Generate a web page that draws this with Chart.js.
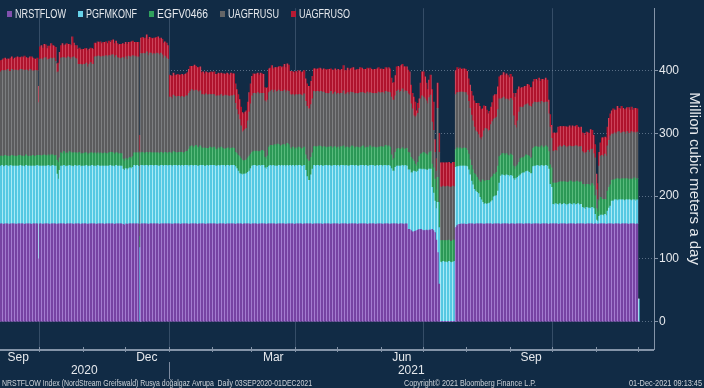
<!DOCTYPE html>
<html>
<head>
<meta charset="utf-8">
<script src="https://cdn.jsdelivr.net/npm/chart.js@4.4.0/dist/chart.umd.min.js"></script>
<style>
  html, body { margin: 0; padding: 0; background: #112b45; }
  #wrap { width: 704px; height: 388px; position: relative; }
</style>
</head>
<body>
<div id="wrap"><canvas id="flow-chart" width="704" height="388"></canvas></div>
<script>
// Daily series, 03 Sep 2020 .. 01 Dec 2021 (one line per month)
const seriesNames = ['NRSTFLOW', 'PGFMKONF', 'EGFV0466', 'UAGFRUSU', 'UAGFRUSO'];
const seriesColors = ['#8150ad', '#66d2ea', '#30a15d', '#646567', '#b61a33'];
// bar fill: base + light stripe (the striped look of the daily bars)
const stripeColors = [
    ['#7743a3', '#a47cd0'],
    ['#55c9e3', '#a8ebf7'],
    ['#2b9956', '#58bb7c'],
    ['#5b5b5d', '#7e7f81'],
    ['#b0132d', '#cd445b']
];

const nrstflow = [
  156,156,155,156,156,156,155,156,156,156,156,155,156,156,156,156,156,155,156,156,156,156,155,156,156,156,156,100,
  156,156,155,156,156,156,156,155,156,156,156,156,155,156,156,156,156,156,155,156,156,156,156,156,155,156,156,156,156,155,156,
  156,156,156,155,156,156,156,156,156,155,156,156,156,156,156,155,156,156,156,156,156,156,155,156,156,156,156,156,155,154,
  156,155,156,156,156,156,156,156,156,156,0,156,156,156,156,156,155,156,156,156,156,156,156,156,155,156,156,156,156,156,156,
  156,156,155,156,156,156,156,156,155,156,156,156,156,156,155,156,156,156,156,156,155,156,156,156,156,156,155,156,156,156,156,
  156,156,156,155,156,156,156,156,156,155,156,156,156,156,156,156,155,156,156,156,156,155,156,156,156,156,156,155,
  156,156,156,156,155,156,156,156,156,156,155,156,156,156,156,156,156,155,156,156,156,156,156,156,155,156,156,156,156,156,155,
  156,156,156,156,156,155,156,156,156,156,156,156,155,156,156,156,156,156,156,155,156,156,156,156,156,155,156,156,156,156,
  156,155,156,156,156,156,156,155,156,156,156,156,156,156,155,156,156,156,156,156,156,155,156,156,156,156,156,155,156,156,156,
  156,155,156,156,156,156,155,156,156,156,156,156,155,156,156,156,155,156,156,147,147,145,143,143,144,145,146,147,147,146,
  145,145,146,145,146,146,147,145,142,130,110,60,0,0,0,0,0,0,0,0,0,0,0,150,153,155,155,156,155,156,155,
  155,156,156,156,156,155,156,156,156,156,156,156,155,156,156,156,156,156,155,156,156,156,156,156,155,156,156,156,156,156,155,
  156,156,156,155,156,156,156,156,156,155,156,156,156,156,156,155,156,156,156,156,156,155,156,156,156,156,156,155,156,156,
  156,156,156,156,155,156,156,156,156,156,155,156,156,156,156,156,155,156,156,156,156,156,156,155,156,156,156,156,156,155,156,
  156,155,156,156,156,156,156,155,156,156,156,156,155,156,156,156,156,155,156,156,156,156,156,155,156,156,156,156,155,156,
  0
];
const pgfmkonf = [
  92,93,92,92,93,92,92,93,92,92,92,93,92,92,93,92,92,92,93,92,92,92,93,92,92,92,93,148,
  92,92,93,92,92,92,93,92,92,93,92,92,80,71,85,92,92,93,92,92,92,93,92,92,92,93,92,92,93,92,92,
  92,92,93,92,92,92,93,92,92,92,93,92,92,92,92,93,92,92,92,93,92,92,92,93,92,92,92,92,88,87,
  88,87,88,89,88,90,93,92,93,92,118,93,93,92,93,93,92,93,93,93,92,93,93,92,93,93,93,92,93,93,92,
  93,93,92,93,93,93,92,93,93,93,92,93,93,93,92,93,93,92,93,93,93,92,93,93,93,92,93,93,92,93,93,
  93,93,92,93,93,92,93,93,93,92,93,93,92,93,93,93,92,88,84,80,79,79,79,79,80,82,84,89,
  92,93,93,92,93,93,92,93,93,89,88,90,92,93,92,93,92,93,92,93,92,93,92,93,92,93,92,93,92,93,92,
  93,92,93,93,92,93,93,85,75,69,69,78,88,93,92,93,93,92,93,93,92,93,93,92,93,93,92,93,93,92,
  93,92,93,93,93,92,93,93,92,93,93,93,92,93,93,92,93,93,93,92,93,93,92,93,93,93,92,93,93,92,93,
  93,92,93,93,92,93,93,88,84,84,90,92,93,92,92,93,92,93,92,95,95,92,94,97,95,93,94,96,96,96,
  98,97,96,96,97,97,67,60,50,50,80,90,95,94,96,95,95,94,96,95,94,95,96,96,94,92,93,92,93,92,93,
  92,86,78,68,62,56,52,50,48,42,38,34,32,32,31,32,33,35,38,43,44,45,52,65,77,78,77,76,78,77,76,
  77,76,72,70,72,74,76,78,80,82,81,83,84,82,80,81,91,92,92,93,92,92,93,92,92,93,92,88,63,58,
  31,30,32,31,31,32,30,31,32,31,30,31,32,31,30,32,31,31,32,30,31,26,25,24,26,25,25,24,26,25,15,
  6,5,12,14,14,13,15,14,20,25,28,36,37,38,38,37,38,39,38,38,37,38,38,39,38,37,38,38,37,38,
  36
];
const egfv0466 = [
  16,15,16,17,15,16,16,15,17,16,16,15,16,17,16,15,16,16,17,16,15,16,16,17,15,16,16,17,
  17,16,17,18,17,16,17,17,18,17,16,17,22,27,20,21,20,22,21,21,20,22,21,21,22,20,21,20,21,20,20,
  20,21,20,19,20,21,20,20,21,20,20,19,21,20,20,21,20,20,21,21,22,21,20,20,21,19,20,20,16,15,
  16,15,16,17,16,17,20,21,20,21,18,20,21,20,20,21,20,21,20,20,21,20,20,21,20,21,20,20,21,20,20,
  21,20,21,22,21,20,21,21,22,21,20,21,22,23,28,30,31,29,30,32,30,29,31,28,27,29,28,27,28,29,28,
  28,29,27,26,28,27,29,27,26,28,27,28,26,27,28,27,23,24,25,27,25,23,21,22,22,23,24,23,
  22,23,22,24,23,22,23,24,23,17,16,18,30,32,33,31,34,32,35,33,31,32,34,33,32,35,34,28,27,29,28,
  28,27,29,28,27,28,29,25,28,31,31,28,26,30,31,29,30,32,30,29,31,29,28,30,29,31,28,29,30,28,
  29,28,30,29,31,28,29,30,28,29,31,30,28,29,30,29,28,30,31,29,28,30,29,31,28,29,30,29,28,30,29,
  30,31,29,32,30,31,30,22,17,20,24,27,28,26,27,28,27,26,28,28,27,25,22,16,12,10,14,20,24,26,
  27,26,25,24,26,28,37,40,35,30,40,40,34,35,33,34,34,35,34,33,34,35,34,28,30,28,29,27,28,29,28,
  26,25,24,25,24,25,26,24,22,25,28,36,37,36,38,37,36,38,38,36,35,37,40,42,33,34,35,33,34,32,33,
  34,33,20,18,19,20,22,26,25,24,26,27,25,26,24,25,29,30,31,29,30,30,31,29,30,31,30,28,31,31,
  34,35,33,34,36,35,37,36,35,36,37,35,36,37,36,35,36,37,35,36,36,37,38,36,37,38,37,36,38,37,30,
  18,15,25,28,25,26,24,25,32,33,34,33,34,32,33,35,33,32,34,33,35,33,34,32,33,34,33,35,33,34,
  0
];
const uagfrusu = [
  134,136,137,135,136,138,136,135,137,136,137,138,136,135,137,139,136,138,135,137,136,138,136,134,137,136,135,84,
  153,155,152,154,156,153,152,155,154,153,156,150,140,144,150,151,153,150,152,151,154,150,149,152,153,151,150,142,140,143,141,
  142,141,143,140,142,144,141,142,153,155,154,156,153,154,155,153,156,154,155,153,155,156,154,155,152,153,151,152,162,163,
  162,161,163,160,162,161,153,154,152,153,135,158,157,159,158,160,157,158,159,156,158,157,159,158,157,158,156,152,153,151,150,
  88,89,87,90,89,88,90,89,87,89,90,88,89,88,89,88,90,91,89,88,90,89,88,85,86,84,87,85,86,84,85,
  85,84,84,86,83,85,84,83,85,86,84,83,85,84,83,85,78,70,65,59,52,45,48,49,50,59,70,80,
  90,92,93,91,94,92,93,91,92,90,91,89,87,86,88,85,87,86,84,87,88,86,85,87,86,84,85,85,86,84,85,
  85,86,84,85,86,84,85,85,84,83,83,84,86,88,87,89,88,86,88,89,87,86,87,85,86,88,86,85,87,86,
  86,87,85,86,88,86,85,87,86,88,85,86,87,86,85,87,88,86,85,87,86,88,86,85,87,86,85,87,86,88,86,
  86,87,85,86,88,86,87,92,96,93,90,92,93,91,92,94,92,93,91,93,92,85,80,72,74,80,78,77,88,92,
  88,87,85,82,88,90,67,60,43,30,110,80,86,85,87,86,86,87,85,86,87,86,85,88,88,90,89,91,90,88,89,
  88,84,82,80,78,74,70,72,72,70,68,68,80,84,82,78,80,85,88,88,89,88,90,92,89,88,90,89,87,89,88,
  89,88,80,70,62,70,80,82,80,81,82,80,82,80,83,81,71,72,70,71,72,70,71,72,71,70,72,60,60,47,
  51,50,52,51,56,57,55,56,58,56,55,57,56,55,57,56,58,56,55,57,56,52,50,53,51,54,52,58,55,51,60,
  30,20,55,66,70,68,72,70,72,75,78,74,73,75,72,74,76,74,73,75,74,72,75,74,73,76,74,73,75,74,
  0
];
const uagfruso = [
  18,17,19,20,18,17,19,21,20,18,19,20,22,21,19,20,21,22,20,19,21,20,22,21,19,18,20,26,
  20,21,19,22,20,18,21,20,23,21,19,22,14,14,18,20,22,19,21,23,20,21,22,33,22,20,21,24,26,23,25,
  24,25,23,26,24,23,25,24,22,21,23,22,24,21,22,23,22,21,23,22,23,24,22,23,22,21,23,22,22,23,
  23,24,22,23,24,23,23,22,24,23,26,25,26,24,25,27,26,25,24,26,25,26,25,27,26,24,25,24,23,24,22,
  35,34,36,35,33,36,35,34,36,35,34,36,35,37,38,40,37,39,41,38,37,39,38,35,36,34,35,36,34,35,36,
  35,36,35,34,36,35,34,36,35,33,36,35,34,36,35,34,31,32,32,32,30,31,27,28,28,30,31,32,
  31,31,30,32,31,30,32,31,30,21,22,20,38,37,39,38,36,39,38,37,40,38,39,41,40,43,42,37,38,36,37,
  37,36,38,37,36,38,37,36,36,36,36,37,36,36,37,35,36,38,36,35,37,38,37,39,38,36,39,38,37,38,
  38,39,37,38,40,38,37,39,38,37,39,40,38,37,39,38,40,39,37,38,39,38,40,39,38,37,39,38,40,39,38,
  38,37,39,38,37,39,38,30,27,28,32,39,38,40,41,39,40,38,39,38,37,30,25,30,25,8,16,15,25,38,
  40,35,28,23,28,32,52,45,20,20,40,30,38,39,37,38,38,37,39,38,37,38,39,38,40,37,38,36,37,38,37,
  38,36,37,38,40,42,44,46,50,50,48,45,40,35,30,28,30,28,30,37,38,36,36,35,38,37,39,38,40,38,37,
  38,37,36,45,55,50,40,30,32,31,30,29,31,33,30,31,35,36,37,35,38,36,35,37,36,38,35,22,20,21,
  28,30,27,29,32,31,33,32,30,32,33,31,32,30,33,32,31,33,32,30,31,30,31,29,32,28,30,32,30,29,21,
  25,25,22,21,28,30,27,29,30,35,35,37,40,36,38,41,37,39,42,38,36,40,38,41,37,39,36,38,40,37,
  0
];

// Axis text
const yTickValues = [0, 100, 200, 300, 400];
const yTitle = 'Million cubic meters a day';
const monthLabels = ['Sep', 'Dec', 'Mar', 'Jun', 'Sep'];
const monthLabelMonths = ['2020-09', '2020-12', '2021-03', '2021-06', '2021-09'];
const yearLabels = ['2020', '2021'];
const footerLeft = 'NRSTFLOW Index (NordStream Greifswald) Rusya doğalgaz Avrupa  Daily 03SEP2020-01DEC2021';
const footerMid = 'Copyright\u00A9 2021 Bloomberg Finance L.P.';
const footerRight = '01-Dec-2021 09:13:45';

const BG = '#112b45';
const TEXT = '#e6e9ed';
const AXIS = '#8494a8';
const FONT = '"Liberation Sans", Arial, sans-serif';

const allSeries = [nrstflow, pgfmkonf, egfv0466, uagfrusu, uagfruso];
if (allSeries.some(s => s.length !== 455)) {
    document.getElementById('wrap').insertAdjacentHTML('beforeend',
        '<div style="position:absolute;left:60px;top:60px;color:red;font:20px sans-serif">' +
        allSeries.map(s => s.length).join(', ') + '</div>');
}

// calendar helpers (day 0 = 03 Sep 2020)
const dayMs = 86400000;
const startUTC = Date.UTC(2020, 8, 3);
const dayIndex = (y, m, d) => Math.round((Date.UTC(y, m, d) - startUTC) / dayMs);
const days = nrstflow.map((_, i) => i);

const monthStarts = [];
for (let y = 2020, m = 9; ; m++) {
    if (m > 11) { m = 0; y++; }
    const idx = dayIndex(y, m, 1);
    if (idx > days.length - 1) break;
    monthStarts.push({ index: idx, month: m, year: y });
}

// 3px striped fill, anchored on the canvas
function stripePattern(base, light) {
    const c = document.createElement('canvas');
    c.width = 3; c.height = 1;
    const g = c.getContext('2d');
    g.fillStyle = base; g.fillRect(0, 0, 2, 1);
    g.fillStyle = light; g.fillRect(2, 0, 1, 1);
    return g.createPattern(c, 'repeat');
}

const axisPlugin = {
    id: 'bloombergAxis',
    beforeDraw(chart) {
        const { ctx, width, height } = chart;
        ctx.save();
        ctx.fillStyle = BG;
        ctx.fillRect(0, 0, width, height);
        ctx.restore();
    },
    beforeDatasetsDraw(chart) {
        // quarter grid lines
        const { ctx, chartArea } = chart;
        const xs = chart.scales.x;
        ctx.save();
        ctx.strokeStyle = 'rgba(120,140,165,0.35)';
        ctx.lineWidth = 1;
        monthStarts.filter(m => m.month % 3 === 0).forEach(m => {
            const px = Math.round(xs.getPixelForValue(m.index - 0.5)) + 0.5;
            ctx.beginPath();
            ctx.moveTo(px, chartArea.top);
            ctx.lineTo(px, chartArea.bottom);
            ctx.stroke();
        });
        ctx.restore();
    },
    afterDraw(chart) {
        const { ctx, chartArea } = chart;
        const xs = chart.scales.x;
        const axisY = chartArea.bottom;
        ctx.save();

        // x axis line + month ticks
        ctx.strokeStyle = AXIS;
        ctx.lineWidth = 2;
        ctx.beginPath();
        ctx.moveTo(chartArea.left, axisY + 1);
        ctx.lineTo(chartArea.right, axisY + 1);
        ctx.stroke();
        ctx.lineWidth = 1;
        monthStarts.forEach(m => {
            const px = Math.round(xs.getPixelForValue(m.index - 0.5)) + 0.5;
            ctx.beginPath();
            ctx.moveTo(px, axisY - 2);
            ctx.lineTo(px, axisY + 3);
            ctx.stroke();
        });

        // month labels, centred in their month
        ctx.fillStyle = TEXT;
        ctx.font = '12px ' + FONT;
        ctx.textAlign = 'center';
        ctx.textBaseline = 'middle';
        monthLabels.forEach((lab, k) => {
            const [y, m] = monthLabelMonths[k].split('-').map(Number);
            const a = xs.getPixelForValue(dayIndex(y, m - 1, 1) - 0.5);
            const b = xs.getPixelForValue(dayIndex(y, m, 1) - 0.5);
            ctx.fillText(lab, (a + b) / 2, 358);
        });

        // years
        const yearSplit = xs.getPixelForValue(dayIndex(2021, 0, 1) - 0.5);
        ctx.fillText(yearLabels[0], (chartArea.left + yearSplit) / 2, 371);
        ctx.fillText(yearLabels[1], (yearSplit + chartArea.right) / 2, 371);
        ctx.strokeStyle = '#7d8ba0';
        ctx.beginPath();
        ctx.moveTo(Math.round(yearSplit) + 0.5, 362);
        ctx.lineTo(Math.round(yearSplit) + 0.5, 379);
        ctx.stroke();

        // legend (overlaid on the plot, text squeezed to the narrow Bloomberg face)
        ctx.font = '12px ' + FONT;
        ctx.textAlign = 'left';
        let lx = 7;
        seriesNames.forEach((name, k) => {
            const w = Math.min(ctx.measureText(name).width, 51);
            ctx.fillStyle = seriesColors[k];
            ctx.fillRect(lx, 11, 5, 6);
            ctx.fillStyle = TEXT;
            ctx.fillText(name, lx + 8, 14.5, w);
            lx += 8 + w + 12;
        });

        // footer
        ctx.fillStyle = '#cdd2d8';
        ctx.font = '9.5px ' + FONT;
        ctx.textAlign = 'left';
        ctx.fillText(footerLeft, 2, 383, 310);
        ctx.textAlign = 'center';
        ctx.fillText(footerMid, 470, 383, 132);
        ctx.textAlign = 'right';
        ctx.fillText(footerRight, 702, 383, 73);
        ctx.restore();
    }
};

Chart.defaults.font.family = FONT;

new Chart(document.getElementById('flow-chart'), {
    type: 'bar',
    data: {
        labels: days,
        datasets: allSeries.map((values, k) => ({
            label: seriesNames[k],
            data: values,
            backgroundColor: stripePattern(stripeColors[k][0], stripeColors[k][1]),
            borderWidth: 0,
            barPercentage: 1,
            categoryPercentage: 1
        }))
    },
    options: {
        responsive: false,
        animation: false,
        devicePixelRatio: 1,
        layout: { padding: { left: 0, right: 0, top: 0, bottom: 39 } },
        plugins: {
            legend: { display: false },
            tooltip: { enabled: false }
        },
        scales: {
            x: {
                type: 'linear',
                min: -0.5,
                max: 465,
                offset: false,
                stacked: true,
                display: false
            },
            y: {
                position: 'right',
                stacked: true,
                min: -43.6,
                max: 499.5,
                afterFit: (scale) => { scale.width = 50; },
                afterBuildTicks: (scale) => { scale.ticks = yTickValues.map(v => ({ value: v })); },
                ticks: {
                    color: TEXT,
                    font: { size: 12 },
                    padding: 1,
                    includeBounds: false
                },
                grid: {
                    color: 'rgba(150,165,185,0.55)',
                    tickColor: AXIS,
                    tickLength: 4,
                    lineWidth: 1
                },
                border: { color: AXIS, width: 1, dash: [1, 2] },
                title: {
                    display: true,
                    text: yTitle,
                    color: TEXT,
                    font: { size: 15 },
                    padding: { top: 1, bottom: 0 }
                }
            }
        }
    },
    plugins: [axisPlugin]
});
</script>
</body>
</html>
